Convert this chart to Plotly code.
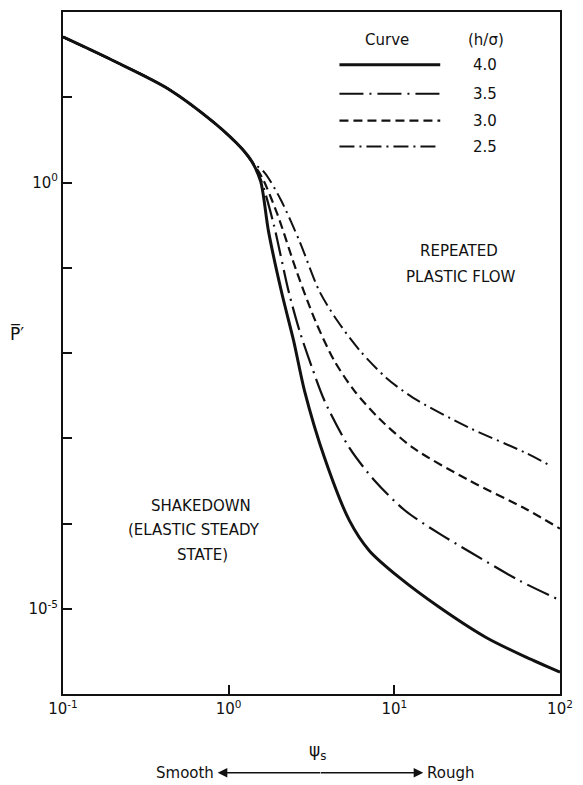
import plotly.graph_objects as go

# Shakedown limit curves: surface roughness parameter psi_s vs load parameter P'
h_sigma = ["4.0", "3.5", "3.0", "2.5"]

# shared smooth-surface branch (all curves coincide here)
psi_common = [0.1, 0.2, 0.43, 0.83, 1.2, 1.38]
p_common = [51, 27, 12.6, 4.9, 2.5, 1.76]

psi_40 = [1.56, 1.74, 2.08, 2.47, 2.87, 3.79, 5.36, 7.06, 10.7, 18.7, 35.8, 62.4, 100]
p_40 = [1.03, 0.267, 0.053, 0.0138, 0.0036, 5.9e-4, 1.08e-4, 4.8e-5, 2.33e-5, 1.04e-5, 4.6e-6, 2.7e-6, 1.8e-6]

psi_35 = [1.57, 1.87, 2.30, 2.68, 3.16, 3.79, 5.36, 7.59, 11.6, 18.7, 28.3, 56.6, 100]
p_35 = [1.06, 0.323, 0.053, 0.0181, 0.00705, 0.00275, 7.7e-4, 3.2e-4, 1.42e-4, 7.6e-5, 4.7e-5, 2.15e-5, 1.26e-5]

psi_30 = [1.6, 1.97, 2.57, 3.34, 4.35, 5.74, 8.13, 13.0, 28.3, 61.5, 100]
p_30 = [1.12, 0.423, 0.091, 0.0237, 0.00805, 0.0036, 0.00169, 7.7e-4, 3.2e-4, 1.5e-4, 8.7e-5]

psi_25 = [1.65, 2.06, 2.68, 3.53, 4.54, 6.24, 8.95, 13.0, 28.3, 61.5, 87]
p_25 = [1.3, 0.632, 0.204, 0.053, 0.0237, 0.0105, 0.0051, 0.00298, 0.00133, 6.8e-4, 4.8e-4]

x_ticks = [0.1, 1, 10, 100]
x_ticktext = ["10<sup>-1</sup>", "10<sup>0</sup>", "10<sup>1</sup>", "10<sup>2</sup>"]
y_ticks = [10.0 ** k for k in range(-6, 3)]
y_ticktext = ["" if k not in (0, -5) else f"10<sup>{k}</sup>" for k in range(-6, 3)]

FONT = "DejaVu Sans"
INK = "#111111"

styles = {
    "4.0": dict(width=3, dash="solid"),
    "3.5": dict(width=2.2, dash="24px,6px,2px,6px"),
    "3.0": dict(width=2.2, dash="9px,5px"),
    "2.5": dict(width=2.0, dash="15px,5px,2px,5px"),
}
series = {
    "4.0": (psi_40, p_40),
    "3.5": (psi_35, p_35),
    "3.0": (psi_30, p_30),
    "2.5": (psi_25, p_25),
}

fig = go.Figure()
for key in ["2.5", "3.0", "3.5", "4.0"]:
    xs, ys = series[key]
    fig.add_trace(go.Scatter(
        x=psi_common + xs, y=p_common + ys, mode="lines",
        line=dict(color=INK, shape="spline", smoothing=0.8, **styles[key]),
        name=key, showlegend=False, hoverinfo="skip",
    ))

# plot area in pixels, used to place legend and captions in paper units
L, R, T, B = 63, 561, 10, 694
W, H = 583, 785
def px(xp):
    return (xp - L) / (R - L)
def py(yp):
    return (B - yp) / (B - T)

shapes = []
annotations = []
rows_y = [63, 92, 119, 145]
for key, yrow in zip(h_sigma, rows_y):
    st = styles[key]
    shapes.append(dict(type="line", xref="paper", yref="paper",
                       x0=px(340), x1=px(441), y0=py(yrow), y1=py(yrow),
                       line=dict(color=INK, width=st["width"], dash=st["dash"])))
    annotations.append(dict(text=key, x=px(486), y=py(yrow)))

annotations += [
    dict(text="Curve", x=px(388), y=py(38)),
    dict(text="(h/σ)", x=px(487), y=py(38)),
    dict(text="REPEATED", x=px(460), y=py(250)),
    dict(text="PLASTIC FLOW", x=px(462), y=py(276)),
    dict(text="SHAKEDOWN", x=px(201), y=py(505)),
    dict(text="(ELASTIC STEADY", x=px(194), y=py(530)),
    dict(text="STATE)", x=px(203), y=py(555)),
    dict(text="P\u0305\u2032", x=px(17), y=py(332), font=dict(family=FONT, size=17, color=INK)),
    dict(text="ψ<sub>s</sub>", x=px(318), y=py(752), font=dict(family=FONT, size=17, color=INK)),
    dict(text="Smooth", x=px(216), y=py(773), xanchor="right"),
    dict(text="Rough", x=px(426), y=py(773), xanchor="left"),
]
for a in annotations:
    a.setdefault("xref", "paper")
    a.setdefault("yref", "paper")
    a.setdefault("xanchor", "center")
    a.setdefault("yanchor", "middle")
    a.setdefault("showarrow", False)
    a.setdefault("font", dict(family=FONT, size=15, color=INK))

# double-headed Smooth/Rough arrow
for xh, dx in [(218, 104), (424, -104)]:
    annotations.append(dict(text="", xref="paper", yref="paper", x=px(xh), y=py(773),
                            ax=dx, ay=0, showarrow=True, arrowhead=2, arrowsize=1.2,
                            arrowwidth=1.6, arrowcolor=INK))

axis_common = dict(showline=True, linecolor=INK, linewidth=2, mirror=True,
                   ticks="inside", ticklen=9, tickwidth=2, tickcolor=INK,
                   showgrid=False, zeroline=False,
                   tickfont=dict(family=FONT, size=15, color=INK))

fig.update_layout(
    width=W, height=H,
    margin=dict(l=L, r=W - R, t=T, b=H - B),
    paper_bgcolor="white", plot_bgcolor="white",
    xaxis=dict(type="log", range=[-1, 2], tickvals=x_ticks, ticktext=x_ticktext, **axis_common),
    yaxis=dict(type="log", range=[-6, 2], tickvals=y_ticks, ticktext=y_ticktext, **axis_common),
    shapes=shapes, annotations=annotations,
    showlegend=False,
)

fig.write_html("out.html")
